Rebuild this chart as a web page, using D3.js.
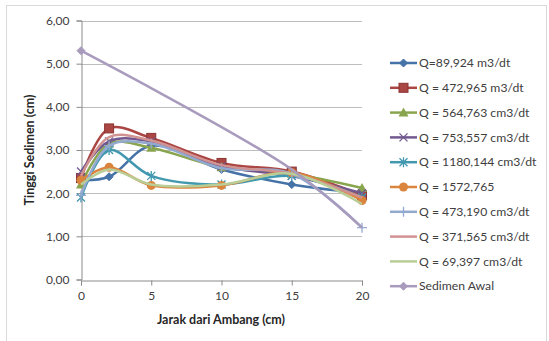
<!DOCTYPE html>
<html><head><meta charset="utf-8">
<script src="https://cdn.jsdelivr.net/npm/d3@7"></script>
<style>body{margin:0;background:#fff;}svg{display:block;}text{font-family:Lato,"Open Sans",sans-serif;}</style>
</head><body><svg id="c" width="549" height="341"></svg>
<script>
const xValues = [0, 2, 5, 10, 15, 20];
const seriesNames = ["Q=89,924 m3/dt","Q = 472,965 m3/dt","Q = 564,763 cm3/dt","Q = 753,557 cm3/dt","Q = 1180,144 cm3/dt","Q = 1572,765","Q = 473,190 cm3/dt","Q = 371,565 cm3/dt","Q = 69,397 cm3/dt","Sedimen Awal"];
const q89924  = [2.30, 2.38, 3.10, 2.55, 2.20, 2.00];
const q472965 = [2.35, 3.50, 3.28, 2.70, 2.50, 1.95];
const q564763 = [2.20, 3.15, 3.05, 2.60, 2.45, 2.12];
const q753557 = [2.50, 3.20, 3.20, 2.62, 2.40, 2.00];
const q1180144= [1.90, 3.00, 2.40, 2.20, 2.40, 1.90];
const q1572765= [2.30, 2.60, 2.18, 2.18, 2.48, 1.83];
const q473190 = [1.95, 3.10, 3.15, 2.58, 2.45, 1.20];
const q371565 = [2.40, 3.30, 3.22, 2.65, 2.45, 1.90];
const q69397  = [2.20, 2.55, 2.20, 2.20, 2.45, 1.75];
const sedimenX = [0, 15, 20];
const sedimenAwal = [5.30, 2.55, 1.20];
const yTicks = [0,1,2,3,4,5,6];
const xTicks = [0,5,10,15,20];

const colors = ["#4572A7","#AA4643","#89A54E","#71588F","#4198AF","#DB843D","#93A9CF","#D19392","#B9CD96","#A99BBD"];
const markers = ["diamond","square","triangle","x","star","circle","plus",null,null,"diamond"];
const seriesData = [q89924,q472965,q564763,q753557,q1180144,q1572765,q473190,q371565,q69397,sedimenAwal];
const seriesX = seriesData.map((d,i)=> i===9 ? sedimenX : xValues);

const svg = d3.select("#c");
svg.append("rect").attr("x",6.5).attr("y",5.5).attr("width",540).attr("height",340).attr("fill","#fff").attr("stroke","#d9d9d9");

const x = d3.scaleLinear().domain([0,20]).range([81,362]);
const y = d3.scaleLinear().domain([0,6]).range([279.5,20.5]);

svg.append("g").selectAll("line").data(yTicks.filter(t=>t>0)).join("line")
  .attr("x1",x(0)).attr("x2",x(20)).attr("y1",d=>Math.round(y(d))+0.5).attr("y2",d=>Math.round(y(d))+0.5)
  .attr("stroke","#bdbdbd").attr("stroke-width",1);

const fmt = d => d.toFixed(2).replace(".",",");
const yAxis = svg.append("g").attr("transform",`translate(${x(0)+0.5},0)`)
  .call(d3.axisLeft(y).tickValues(yTicks).tickSize(5).tickPadding(7).tickFormat(fmt));
const xAxis = svg.append("g").attr("transform",`translate(0,${Math.round(y(0))+0.5})`)
  .call(d3.axisBottom(x).tickValues(xTicks).tickSize(5).tickPadding(6).tickFormat(d3.format("d")));
[yAxis,xAxis].forEach(a=>{
  a.select(".domain").attr("stroke","#8a8a8a");
  a.selectAll(".tick line").attr("stroke","#8a8a8a");
  a.selectAll(".tick text").attr("fill","#404040").attr("font-size",12);
});

const line = d3.line().curve(d3.curveCatmullRom.alpha(0.5));

function drawMarker(g, type, cx, cy, color){
  const s = 4;
  if(type==="diamond"){
    g.append("path").attr("d",`M${cx},${cy-s}L${cx+s},${cy}L${cx},${cy+s}L${cx-s},${cy}Z`).attr("fill",color).attr("stroke",color);
  } else if(type==="square"){
    g.append("rect").attr("x",cx-4.5).attr("y",cy-4.5).attr("width",9).attr("height",9).attr("fill",color).attr("stroke","#8a3532");
  } else if(type==="triangle"){
    g.append("path").attr("d",`M${cx},${cy-5}L${cx+5},${cy+4}L${cx-5},${cy+4}Z`).attr("fill",color);
  } else if(type==="x"){
    g.append("path").attr("d",`M${cx-4},${cy-4}L${cx+4},${cy+4}M${cx-4},${cy+4}L${cx+4},${cy-4}`).attr("stroke",color).attr("stroke-width",1.3);
  } else if(type==="star"){
    g.append("path").attr("d",`M${cx-4},${cy-4}L${cx+4},${cy+4}M${cx-4},${cy+4}L${cx+4},${cy-4}M${cx},${cy-5}L${cx},${cy+5}`).attr("stroke",color).attr("stroke-width",1.3);
  } else if(type==="circle"){
    g.append("circle").attr("cx",cx).attr("cy",cy).attr("r",4.5).attr("fill",color);
  } else if(type==="plus"){
    g.append("path").attr("d",`M${cx-5},${cy}L${cx+5},${cy}M${cx},${cy-5}L${cx},${cy+5}`).attr("stroke",color).attr("stroke-width",1.3);
  }
}

const plot = svg.append("g");
seriesData.forEach((vals,i)=>{
  const xs = seriesX[i];
  const pts = vals.map((v,j)=>[x(xs[j]), y(v)]);
  const g = plot.append("g");
  g.append("path").attr("d",line(pts)).attr("fill","none").attr("stroke",colors[i]).attr("stroke-width",2.5).attr("stroke-linejoin","round");
  if(markers[i]){
    const ptsM = i===9 ? [pts[0]] : pts;
    ptsM.forEach(p=>drawMarker(g, markers[i], p[0], p[1], colors[i]));
  }
});

svg.append("text").attr("x",221).attr("y",324).attr("text-anchor","middle").attr("font-size",12.5).attr("font-weight","bold").attr("fill","#262626").text("Jarak dari Ambang (cm)");
svg.append("text").attr("transform","translate(34,150) rotate(-90)").attr("text-anchor","middle").attr("font-size",12.5).attr("font-weight","bold").attr("fill","#262626").text("Tinggi Sedimen (cm)");

const leg = svg.append("g");
seriesNames.forEach((name,i)=>{
  const ly = 63 + i*24.8;
  const g = leg.append("g");
  g.append("line").attr("x1",390).attr("x2",417).attr("y1",ly).attr("y2",ly).attr("stroke",colors[i]).attr("stroke-width",2.5);
  if(markers[i]) drawMarker(g, markers[i], 403.5, ly, colors[i]);
  g.append("text").attr("x",419).attr("y",ly).attr("dy","0.35em").attr("font-size",12.2).attr("fill","#404040").text(name);
});
</script></body></html>
